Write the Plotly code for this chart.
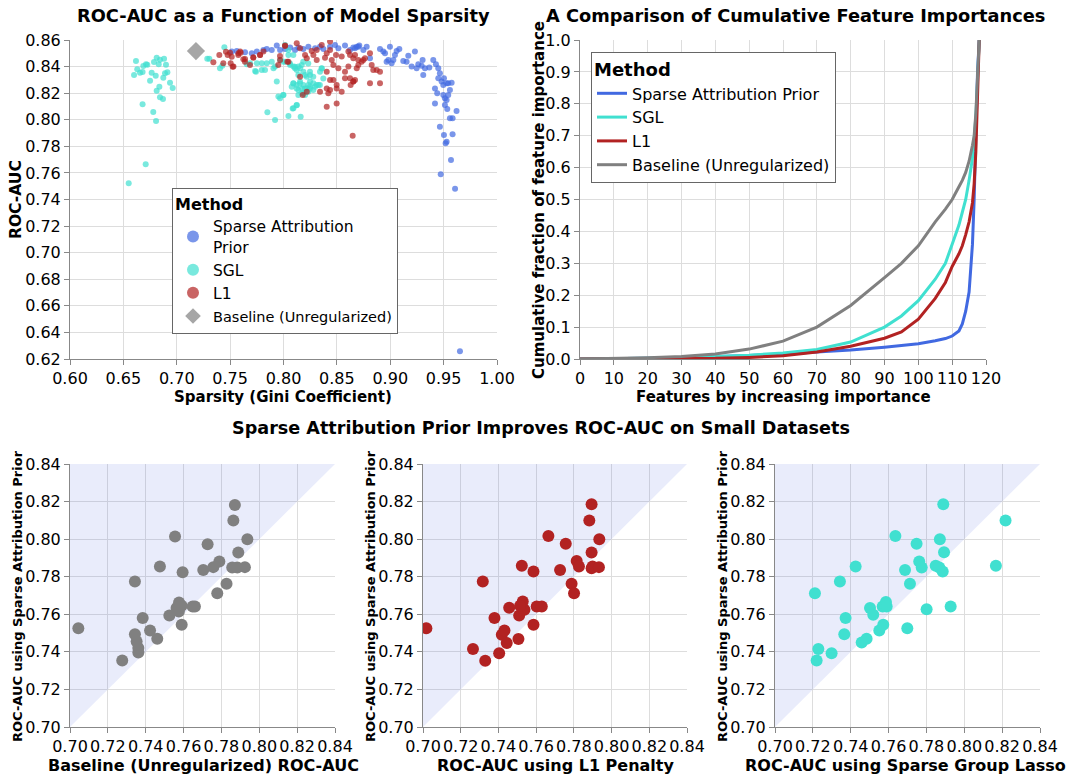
import plotly.graph_objects as go

FONT = "DejaVu Sans"

# ---------------- Top-left: ROC-AUC vs sparsity ----------------
sap_gini = [0.7516, 0.7562, 0.7640, 0.7703, 0.7750, 0.7812, 0.7843, 0.7890, 0.7937, 0.7968,
            0.8015, 0.8062, 0.8108, 0.8140, 0.8186, 0.8233, 0.8296, 0.8342, 0.8374, 0.8436,
            0.8483, 0.8514, 0.8576, 0.8623, 0.8670, 0.8701,
            0.8654, 0.8685, 0.8710, 0.8748, 0.8779, 0.8810, 0.8904, 0.8935, 0.8951, 0.8966,
            0.8982, 0.8997, 0.9013, 0.9029, 0.9044, 0.9060, 0.9085, 0.9122, 0.9153, 0.9169,
            0.9200, 0.9231, 0.9247, 0.9263, 0.9294, 0.9303, 0.9309, 0.9325, 0.9366, 0.9403,
            0.9428, 0.9450, 0.9450, 0.9465, 0.9481, 0.9497, 0.9503, 0.9528, 0.9543, 0.9575,
            0.9419, 0.9440, 0.9497, 0.9512, 0.9543, 0.9559, 0.9419, 0.9512, 0.9528, 0.9534,
            0.9559, 0.9584, 0.9621, 0.9465, 0.9503, 0.9528, 0.9584, 0.9519, 0.9569, 0.9473,
            0.9607, 0.9653]
sap_auc = [0.8513, 0.8518, 0.8507, 0.8500, 0.8513, 0.8525, 0.8533, 0.8525, 0.8558, 0.8525,
           0.8533, 0.8543, 0.8525, 0.8543, 0.8533, 0.8550, 0.8538, 0.8550, 0.8533, 0.8550,
           0.8563, 0.8538, 0.8558, 0.8525, 0.8538, 0.8550,
           0.8543, 0.8550, 0.8558, 0.8525, 0.8550, 0.8462, 0.8533, 0.8513, 0.8500, 0.8437,
           0.8450, 0.8550, 0.8425, 0.8450, 0.8487, 0.8518, 0.8533, 0.8442, 0.8437, 0.8482,
           0.8400, 0.8513, 0.8387, 0.8417, 0.8407, 0.8450, 0.8337, 0.8387, 0.8394, 0.8450,
           0.8417, 0.8387, 0.8312, 0.8349, 0.8287, 0.8261, 0.8312, 0.8274, 0.8274, 0.8279,
           0.8236, 0.8199, 0.8186, 0.8161, 0.8186, 0.8224, 0.8123, 0.8111, 0.8149, 0.8081,
           0.8011, 0.8011, 0.8066, 0.7948, 0.7885, 0.7835, 0.7890, 0.7823, 0.7697, 0.7590,
           0.7481, 0.6258]

sgl_gini = [0.6618, 0.6600, 0.6630, 0.6656, 0.6680, 0.6687, 0.6712, 0.6724, 0.6680, 0.6750,
            0.6765, 0.6787, 0.6803, 0.6812, 0.6831, 0.6843, 0.6881, 0.6899, 0.6890, 0.6912,
            0.6874, 0.6837, 0.6812, 0.6843, 0.6871, 0.6937, 0.6962, 0.6780, 0.6806, 0.6709,
            0.6550, 0.7286, 0.7305, 0.7446, 0.7405, 0.7427,
            0.7656, 0.7687, 0.7750, 0.7796, 0.7843, 0.7890, 0.7906, 0.7921, 0.7968, 0.8015,
            0.8046, 0.8062, 0.8093, 0.8108, 0.8124, 0.8140, 0.8155, 0.8171, 0.8186, 0.8202,
            0.8249, 0.8249, 0.8233, 0.8218, 0.8249, 0.8280, 0.8296, 0.8327, 0.8342, 0.8358,
            0.8155, 0.8124, 0.8093, 0.8077, 0.8186, 0.8171, 0.8140, 0.8171, 0.8202, 0.7937,
            0.7952, 0.7968, 0.7999, 0.8093, 0.8124, 0.7849, 0.7921, 0.8046, 0.8161, 0.7734,
            0.7796, 0.7827, 0.7742,
            0.8014, 0.8045, 0.8092, 0.7998, 0.8061, 0.8107, 0.8185, 0.8232, 0.8139, 0.8092,
            0.8154, 0.8217, 0.8248, 0.8279, 0.8310, 0.8248, 0.8201, 0.8279, 0.8341, 0.8373,
            0.8357, 0.8123, 0.8185, 0.8139, 0.8232, 0.7998, 0.8123, 0.8086]
sgl_auc = [0.8442, 0.8337, 0.8380, 0.8354, 0.8360, 0.8404, 0.8417, 0.8414, 0.8116, 0.8294,
           0.8354, 0.8434, 0.8331, 0.8467, 0.8417, 0.8452, 0.8459, 0.8414, 0.8350, 0.8357,
           0.8316, 0.8249, 0.8219, 0.8169, 0.8156, 0.8279, 0.8239, 0.8058, 0.7991, 0.7665,
           0.7522, 0.8459, 0.8459, 0.8545, 0.8387, 0.8407,
           0.8417, 0.8425, 0.8425, 0.8425, 0.8425, 0.8437, 0.8387, 0.8400, 0.8450, 0.8437,
           0.8487, 0.8412, 0.8400, 0.8387, 0.8374, 0.8400, 0.8387, 0.8412, 0.8362, 0.8337,
           0.8337, 0.8287, 0.8262, 0.8236, 0.8236, 0.8274, 0.8249, 0.8262, 0.8362, 0.8387,
           0.8287, 0.8262, 0.8274, 0.8249, 0.8262, 0.8236, 0.8224, 0.8199, 0.8186, 0.8287,
           0.8174, 0.8161, 0.8186, 0.8086, 0.8111, 0.8056, 0.7998, 0.8028, 0.8023, 0.8367,
           0.8374, 0.8374, 0.8362,
           0.8562, 0.8524, 0.8487, 0.8437, 0.8424, 0.8399, 0.8437, 0.8424, 0.8336, 0.8273,
           0.8273, 0.8324, 0.8361, 0.8324, 0.8261, 0.8248, 0.8236, 0.8223, 0.8261, 0.8311,
           0.8386, 0.8236, 0.8198, 0.8186, 0.8211, 0.8186, 0.8110, 0.8085]

l1_gini = [0.7531, 0.7578, 0.7594, 0.7640, 0.7718, 0.7781, 0.7812, 0.7968, 0.8015, 0.8046,
           0.8124, 0.8155, 0.8202, 0.8218, 0.8264, 0.8311, 0.8358, 0.8389, 0.8405, 0.8436,
           0.8436, 0.8452, 0.8467, 0.8492, 0.8514, 0.8405, 0.8436, 0.8467, 0.8498, 0.8576,
           0.8576, 0.8608, 0.8629, 0.8654, 0.8686, 0.8701, 0.8670, 0.8155, 0.8180, 0.8218,
           0.8342, 0.8405, 0.8420, 0.8436, 0.8498, 0.8545, 0.8405, 0.8498, 0.8648, 0.8280,
           0.8311, 0.8545, 0.8608,
           0.8623, 0.8654, 0.8701, 0.8732, 0.8748, 0.8763, 0.8810, 0.8826, 0.8841, 0.8873,
           0.8904, 0.8623, 0.8654, 0.8670, 0.8810, 0.8904,
           0.7343, 0.7399, 0.7436, 0.7461, 0.7477, 0.7499, 0.7515, 0.7505, 0.7524, 0.7577,
           0.7599, 0.7624, 0.7639, 0.7686, 0.7717, 0.7780, 0.7951, 0.7967, 0.8036, 0.8014]
l1_auc = [0.8400, 0.8500, 0.8513, 0.8457, 0.8467, 0.8487, 0.8513, 0.8450, 0.8558, 0.8437,
          0.8575, 0.8538, 0.8487, 0.8462, 0.8518, 0.8450, 0.8563, 0.8467, 0.8500, 0.8588,
          0.8525, 0.8450, 0.8412, 0.8487, 0.8387, 0.8362, 0.8299, 0.8299, 0.8262, 0.8362,
          0.8312, 0.8400, 0.8262, 0.8287, 0.8387, 0.8450, 0.8487, 0.8324, 0.8186, 0.8211,
          0.8211, 0.8236, 0.8199, 0.8224, 0.8236, 0.8211, 0.8098, 0.8123, 0.7880, 0.8487,
          0.8525, 0.8475, 0.8513,
          0.8487, 0.8462, 0.8412, 0.8437, 0.8450, 0.8462, 0.8500, 0.8412, 0.8374, 0.8374,
          0.8362, 0.8312, 0.8287, 0.8299, 0.8274, 0.8274,
          0.8432, 0.8487, 0.8425, 0.8512, 0.8487, 0.8505, 0.8474, 0.8425, 0.8399, 0.8487,
          0.8505, 0.8455, 0.8437, 0.8412, 0.8470, 0.8487, 0.8412, 0.8480, 0.8437, 0.8555]

base_gini = [0.718]
base_auc = [0.8517]

tl_x_ticks = [0.60, 0.65, 0.70, 0.75, 0.80, 0.85, 0.90, 0.95, 1.00]
tl_y_ticks = [0.62, 0.64, 0.66, 0.68, 0.70, 0.72, 0.74, 0.76, 0.78, 0.80, 0.82, 0.84, 0.86]

# ---------------- Top-right: cumulative feature importance ----------------
feat_x = [0, 10, 20, 30, 40, 50, 60, 70, 80, 90, 95, 100, 105, 108, 110, 112, 113, 114,
          115, 116, 116.5, 117, 117.5, 118]
cum_sap = [0, 0.0005, 0.002, 0.004, 0.007, 0.011, 0.016, 0.021, 0.028, 0.037, 0.042, 0.048,
           0.057, 0.064, 0.072, 0.088, 0.11, 0.15, 0.21, 0.36, 0.50, 0.70, 0.90, 1.0]
cum_sgl = [0, 0.0005, 0.002, 0.004, 0.007, 0.012, 0.019, 0.030, 0.053, 0.10, 0.135, 0.183,
           0.25, 0.30, 0.36, 0.42, 0.46, 0.50, 0.56, 0.63, 0.69, 0.76, 0.87, 1.0]
cum_l1 = [0, 0.0002, 0.0005, 0.001, 0.002, 0.005, 0.010, 0.022, 0.040, 0.065, 0.085, 0.125,
          0.19, 0.24, 0.29, 0.33, 0.355, 0.39, 0.43, 0.49, 0.55, 0.65, 0.80, 1.0]
cum_base = [0, 0.001, 0.004, 0.008, 0.016, 0.031, 0.056, 0.10, 0.168, 0.255, 0.30, 0.355,
            0.43, 0.47, 0.50, 0.54, 0.56, 0.585, 0.62, 0.67, 0.70, 0.77, 0.87, 1.0]
tr_x_ticks = [0, 10, 20, 30, 40, 50, 60, 70, 80, 90, 100, 110, 120]
tr_y_ticks = [0.0, 0.1, 0.2, 0.3, 0.4, 0.5, 0.6, 0.7, 0.8, 0.9, 1.0]

# ---------------- Bottom: per-dataset comparisons ----------------
b1_base = [0.7044, 0.7276, 0.7343, 0.7343, 0.7352, 0.7361, 0.7361, 0.7384, 0.7423, 0.7461,
           0.7475, 0.7525, 0.7555, 0.7563, 0.7576, 0.7575, 0.7590, 0.7590, 0.7595, 0.7648,
           0.7660, 0.7704, 0.7727, 0.7757, 0.7778, 0.7789, 0.7827, 0.7857, 0.7863, 0.7871,
           0.7884, 0.7889, 0.7924, 0.7937]
b1_sap = [0.7526, 0.7354, 0.7774, 0.7494, 0.7455, 0.7420, 0.7397, 0.7580, 0.7514, 0.7470,
          0.7854, 0.7594, 0.8014, 0.7633, 0.7663, 0.7615, 0.7645, 0.7544, 0.7824, 0.7642,
          0.7642, 0.7836, 0.7973, 0.7851, 0.7712, 0.7881, 0.7762, 0.7849, 0.8099, 0.8182,
          0.7849, 0.7929, 0.7851, 0.7999]

b2_l1 = [0.7018, 0.7265, 0.7330, 0.7317, 0.7404, 0.7379, 0.7418, 0.7432, 0.7444, 0.7457,
         0.7506, 0.7510, 0.7524, 0.7529, 0.7538, 0.7586, 0.7586, 0.7603, 0.7630, 0.7665,
         0.7727, 0.7757, 0.7788, 0.7801, 0.7815, 0.7827, 0.7882, 0.7894, 0.7894, 0.7894,
         0.7899, 0.7933, 0.7935, 0.7515]
b2_sap = [0.7526, 0.7415, 0.7353, 0.7774, 0.7393, 0.7580, 0.7491, 0.7514, 0.7447, 0.7635,
          0.7468, 0.7594, 0.7858, 0.7668, 0.7624, 0.7828, 0.7544, 0.7642, 0.7642, 0.8017,
          0.7836, 0.7975, 0.7762, 0.7712, 0.7884, 0.7854, 0.8099, 0.8186, 0.7929, 0.7845,
          0.7854, 0.7851, 0.7999, 0.7645]

b3_sgl = [0.7211, 0.7220, 0.7229, 0.7299, 0.7343, 0.7366, 0.7373, 0.7426, 0.7458, 0.7484,
          0.7502, 0.7519, 0.7551, 0.7572, 0.7569, 0.7586, 0.7590, 0.7636, 0.7687, 0.7699,
          0.7713, 0.7748, 0.7762, 0.7775, 0.7801, 0.7849, 0.7868, 0.7871, 0.7886, 0.7889,
          0.7893, 0.7928, 0.8167, 0.8218]
b3_sap = [0.7712, 0.7354, 0.7415, 0.7393, 0.7774, 0.7494, 0.7580, 0.7854, 0.7450, 0.7470,
          0.7633, 0.7597, 0.7514, 0.7544, 0.7642, 0.7665, 0.7642, 0.8017, 0.7836, 0.7526,
          0.7762, 0.7975, 0.7881, 0.7849, 0.7627, 0.7858, 0.7849, 0.7999, 0.7828, 0.8186,
          0.7930, 0.7642, 0.7858, 0.8099]
b_ticks = [0.70, 0.72, 0.74, 0.76, 0.78, 0.80, 0.82, 0.84]

# ---------------- colors ----------------
C_SAP = "#4169E1"
C_SGL = "#40E0D0"
C_L1 = "#B22222"
C_BASE = "#808080"

fig = go.Figure()

# top-left scatter
for name, xs, ys, col in [("Sparse Attribution<br>Prior", sap_gini, sap_auc, C_SAP),
                          ("SGL", sgl_gini, sgl_auc, C_SGL),
                          ("L1", l1_gini, l1_auc, C_L1)]:
    fig.add_trace(go.Scatter(x=xs, y=ys, mode="markers", name=name, xaxis="x", yaxis="y",
                             marker=dict(color=col, size=6, opacity=0.7, line=dict(width=0)),
                             legend="legend"))
fig.add_trace(go.Scatter(x=base_gini, y=base_auc, mode="markers",
                         name='<span style="font-size:14.5px">Baseline (Unregularized)</span>',
                         xaxis="x", yaxis="y", legend="legend",
                         marker=dict(color=C_BASE, size=14, symbol="diamond", opacity=0.7,
                                     line=dict(width=0))))

# top-right lines
for name, ys, col in [("Sparse Attribution Prior", cum_sap, C_SAP),
                      ("SGL", cum_sgl, C_SGL),
                      ("L1", cum_l1, C_L1),
                      ("Baseline (Unregularized)", cum_base, C_BASE)]:
    fig.add_trace(go.Scatter(x=feat_x, y=ys, mode="lines", name=name, xaxis="x2", yaxis="y2",
                             line=dict(color=col, width=3), legend="legend2"))

# bottom panels
lo, hi = b_ticks[0], b_ticks[-1]
for i, (xs, ys, col) in enumerate([(b1_base, b1_sap, C_BASE), (b2_l1, b2_sap, C_L1),
                                    (b3_sgl, b3_sap, C_SGL)]):
    xa, ya = f"x{i+3}", f"y{i+3}"
    fig.add_trace(go.Scatter(x=[lo, lo, hi, lo], y=[lo, hi, hi, lo], mode="lines", fill="toself",
                             fillcolor="rgba(100,120,230,0.14)", line=dict(width=0),
                             xaxis=xa, yaxis=ya, showlegend=False, hoverinfo="skip"))
    fig.add_trace(go.Scatter(x=xs, y=ys, mode="markers", xaxis=xa, yaxis=ya, showlegend=False,
                             marker=dict(color=col, size=12, line=dict(width=0))))

W, H = 1070, 776


def px_x(p):
    return p / W


def px_y(p):
    return 1 - p / H


def axis(dom, rng, ticks, fmt, anchor):
    return dict(domain=dom, range=rng, tickvals=ticks, tickformat=fmt, anchor=anchor,
                automargin=False,
                showline=True, linecolor="#888", linewidth=1, ticks="outside", ticklen=5,
                tickcolor="#888", showgrid=True, gridcolor="#ddd", gridwidth=1, zeroline=False,
                tickfont=dict(family=FONT, size=16, color="#000"), fixedrange=True)


top_dom = [px_y(359), px_y(40)]
bot_dom = [px_y(727), px_y(464)]

fig.update_layout(
    template="none",
    width=W, height=H, margin=dict(l=0, r=0, t=0, b=0, pad=0, autoexpand=False),
    paper_bgcolor="white", plot_bgcolor="white",
    font=dict(family=FONT, color="#000"),
    xaxis=axis([px_x(70), px_x(497)], [0.60, 1.00], tl_x_ticks, ".2f", "y"),
    yaxis=axis(top_dom, [0.62, 0.86], tl_y_ticks, ".2f", "x"),
    xaxis2=axis([px_x(580), px_x(986)], [0, 120], tr_x_ticks, "d", "y2"),
    yaxis2=axis(top_dom, [0, 1], tr_y_ticks, ".1f", "x2"),
    xaxis3=axis([px_x(70), px_x(335)], [lo, hi], b_ticks, ".2f", "y3"),
    yaxis3=axis(bot_dom, [lo, hi], b_ticks, ".2f", "x3"),
    xaxis4=axis([px_x(423), px_x(687)], [lo, hi], b_ticks, ".2f", "y4"),
    yaxis4=axis(bot_dom, [lo, hi], b_ticks, ".2f", "x4"),
    xaxis5=axis([px_x(775), px_x(1040)], [lo, hi], b_ticks, ".2f", "y5"),
    yaxis5=axis(bot_dom, [lo, hi], b_ticks, ".2f", "x5"),
    legend=dict(x=px_x(172), y=px_y(188), xanchor="left", yanchor="top",
                bordercolor="#666", borderwidth=1, bgcolor="white",
                title=dict(text="<b>Method</b>", font=dict(size=16, family=FONT)),
                font=dict(size=15.5, family=FONT), itemsizing="constant", tracegroupgap=0),
    legend2=dict(x=px_x(591), y=px_y(52), xanchor="left", yanchor="top",
                 bordercolor="#666", borderwidth=1, bgcolor="white",
                 title=dict(text="<b>Method</b>", font=dict(size=18, family=FONT)),
                 font=dict(size=16, family=FONT), tracegroupgap=0),
    showlegend=True,
)

ann = []


def text(t, x, y, size, angle=0, bold=True):
    ann.append(dict(text=f"<b>{t}</b>" if bold else t, x=px_x(x), y=px_y(y), xref="paper",
                    yref="paper", showarrow=False, textangle=angle, xanchor="center",
                    yanchor="middle", font=dict(family=FONT, size=size, color="#000")))


text("ROC-AUC as a Function of Model Sparsity", 283, 15, 17.8)
text("A Comparison of Cumulative Feature Importances", 795, 15, 17.8)
text("Sparse Attribution Prior Improves ROC-AUC on Small Datasets", 541, 428, 17.6)
text("Sparsity (Gini Coefficient)", 283, 397, 15)
text("ROC-AUC", 16, 200, 15.5, -90)
text("Features by increasing importance", 783, 397, 15)
text("Cumulative fraction of feature importance", 539, 200, 15, -90)
text("Baseline (Unregularized) ROC-AUC", 203, 765, 16)
text("ROC-AUC using L1 Penalty", 555, 765, 16)
text("ROC-AUC using Sparse Group Lasso", 905, 765, 16)
for xp in (17, 370, 722):
    text("ROC-AUC using Sparse Attribution Prior", xp, 596, 13, -90)
fig.update_layout(annotations=ann)

fig.write_html("out.html")
